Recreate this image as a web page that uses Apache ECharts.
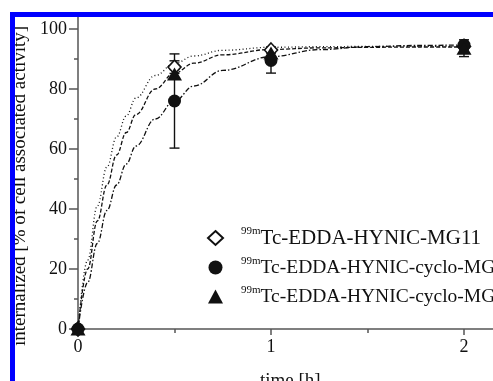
<!DOCTYPE html>
<html>
<head>
<meta charset="utf-8">
<script src="https://cdn.jsdelivr.net/npm/echarts@6/dist/echarts.min.js"></script>
<style>
html,body{margin:0;padding:0;background:#fff;}
#chart{width:493px;height:381px;}
</style>
</head>
<body>
<div id="chart"></div>
<script>
// ---- data ----
var seriesNames = ['Tc-EDDA-HYNIC-MG11', 'Tc-EDDA-HYNIC-cyclo-MG1', 'Tc-EDDA-HYNIC-cyclo-MG2'];
var timePoints = [0, 0.5, 1, 2];
var mg11Values = [0, 87.3, 93.0, 94.2];
var cycloMg1Values = [0, 76.0, 89.5, 94.6];
var cycloMg2Values = [0, 85.0, 92.0, 93.6];
var mg11Err = [0, 2.1, 1.0, 1.0];
var cycloMg1Err = [0, 15.7, 4.2, 1.0];
var cycloMg2Err = [0, 1.5, 1.5, 2.8];

var fitTimes = [0, 0.05, 0.1, 0.15, 0.2, 0.25, 0.3, 0.4, 0.5, 0.6, 0.75, 1.0, 1.25, 1.5, 1.75, 2.0];
var mg11Fit = [0, 23, 41, 54, 64, 71, 77, 84.5, 88.5, 91, 92.9, 93.9, 94.1, 94.2, 94.2, 94.2];
var cycloMg2Fit = [0, 20, 36, 48, 58, 65.5, 71.5, 80, 85.3, 88.6, 91.4, 93.2, 93.7, 93.9, 94, 94];
var cycloMg1Fit = [0, 15.5, 28.5, 39.5, 48, 55, 61, 70, 76, 81, 86.2, 90.8, 93.1, 94.1, 94.5, 94.7];

var xTickValues = [0, 1, 2];
var xMinorValues = [0.5, 1.5];
var yTickValues = [0, 20, 40, 60, 80, 100];
var yMinorValues = [10, 30, 50, 70, 90];

// ---- build ----
var FONT = 'Liberation Serif';
var INK = '#111';
var AXIS = '#555';

function pairs(xs, ys) { return xs.map(function (x, i) { return [x, ys[i]]; }); }
function errData(xs, ys, es) {
  var out = [];
  xs.forEach(function (x, i) { if (es[i] > 0) out.push([x, ys[i] - es[i], ys[i] + es[i]]); });
  return out;
}

function errSeries(data) {
  return {
    type: 'custom', xAxisIndex: 0, yAxisIndex: 0, z: 3, silent: true,
    data: data,
    renderItem: function (params, api) {
      var lo = api.coord([api.value(0), api.value(1)]);
      var hi = api.coord([api.value(0), api.value(2)]);
      var w = 5;
      var st = { stroke: INK, lineWidth: 1.4 };
      return { type: 'group', children: [
        { type: 'line', shape: { x1: lo[0], y1: lo[1], x2: hi[0], y2: hi[1] }, style: st },
        { type: 'line', shape: { x1: lo[0] - w, y1: lo[1], x2: lo[0] + w, y2: lo[1] }, style: st },
        { type: 'line', shape: { x1: hi[0] - w, y1: hi[1], x2: hi[0] + w, y2: hi[1] }, style: st }
      ]};
    }
  };
}

function fitSeries(ys, dash) {
  return {
    type: 'line', xAxisIndex: 0, yAxisIndex: 0, z: 2, silent: true,
    data: pairs(fitTimes, ys), smooth: 0.4, smoothMonotone: 'x',
    showSymbol: false, symbol: 'none',
    lineStyle: { color: INK, width: 1.3, type: dash }
  };
}

var chart = echarts.init(document.getElementById('chart'), null, { renderer: 'canvas' });
var option = {
  backgroundColor: '#fff',
  animation: false,
  grid: { left: 78, top: 17, width: 424.6, height: 312, containLabel: false, outerBoundsMode: 'none' },
  xAxis: [
    {
      type: 'value', min: 0, max: 2.2, position: 'bottom',
      name: 'time [h]', nameLocation: 'middle', nameGap: 43,
      nameTextStyle: { fontFamily: FONT, fontSize: 19, color: INK },
      axisLine: { show: true, lineStyle: { color: AXIS, width: 1.5 } },
      axisTick: { show: true, length: 6, lineStyle: { color: AXIS, width: 1.5 }, customValues: xTickValues },
      axisLabel: { show: true, margin: 9, fontFamily: FONT, fontSize: 18, color: INK, customValues: xTickValues },
      splitLine: { show: false }
    },
    {
      type: 'value', min: 0, max: 2.2, position: 'bottom',
      axisLine: { show: false },
      axisTick: { show: true, length: 4, lineStyle: { color: AXIS, width: 1.5 }, customValues: xMinorValues },
      axisLabel: { show: false },
      splitLine: { show: false }
    }
  ],
  yAxis: [
    {
      type: 'value', min: 0, max: 104, position: 'left',
      name: 'internalized [% of cell associated activity]', nameLocation: 'middle', nameGap: 48,
      nameTextStyle: { fontFamily: FONT, fontSize: 19, color: INK, padding: [0, 26, 0, 0] },
      axisLine: { show: true, lineStyle: { color: AXIS, width: 1.5 } },
      axisTick: { show: true, length: 9, lineStyle: { color: AXIS, width: 1.5 }, customValues: yTickValues },
      axisLabel: { show: true, margin: 11, fontFamily: FONT, fontSize: 18, color: INK, customValues: yTickValues },
      splitLine: { show: false }
    },
    {
      type: 'value', min: 0, max: 104, position: 'left',
      axisLine: { show: false },
      axisTick: { show: true, length: 4, lineStyle: { color: AXIS, width: 1.5 }, customValues: yMinorValues },
      axisLabel: { show: false },
      splitLine: { show: false }
    }
  ],
  legend: {
    orient: 'vertical', left: 202, top: 221, itemGap: 7,
    itemWidth: 15, itemHeight: 14,
    data: seriesNames,
    selectedMode: false,
    formatter: function (n) {
      return '{sup|99m}{' + (n === seriesNames[0] ? 'big' : 'main') + '|' + n + '}';
    },
    textStyle: {
      padding: [0, 0, 0, 13],
      rich: {
        sup: { fontFamily: FONT, fontSize: 11, color: INK, lineHeight: 8, verticalAlign: 'top' },
        big: { fontFamily: FONT, fontSize: 21, color: INK, lineHeight: 24 },
        main: { fontFamily: FONT, fontSize: 19.5, color: INK, lineHeight: 24 }
      }
    }
  },
  graphic: [
    { type: 'rect', shape: { x: 10, y: 12, width: 5, height: 369 }, style: { fill: '#0000ff' }, z: 100 },
    { type: 'rect', shape: { x: 10, y: 12, width: 483, height: 5 }, style: { fill: '#0000ff' }, z: 100 }
  ],
  series: [
    fitSeries(mg11Fit, [1, 2.5]),
    fitSeries(cycloMg2Fit, [4, 2]),
    fitSeries(cycloMg1Fit, [5, 2, 1.5, 2]),
    errSeries(errData(timePoints, mg11Values, mg11Err)),
    errSeries(errData(timePoints, cycloMg1Values, cycloMg1Err)),
    errSeries(errData(timePoints, cycloMg2Values, cycloMg2Err)),
    {
      name: seriesNames[0], type: 'scatter', xAxisIndex: 0, yAxisIndex: 0, z: 5,
      data: pairs(timePoints, mg11Values), symbol: 'diamond', symbolSize: [13, 14],
      itemStyle: { color: '#fff', borderColor: INK, borderWidth: 1.6, opacity: 1 }
    },
    {
      name: seriesNames[1], type: 'scatter', xAxisIndex: 0, yAxisIndex: 0, z: 5,
      data: pairs(timePoints, cycloMg1Values), symbol: 'circle', symbolSize: 13,
      itemStyle: { color: INK, opacity: 1 }
    },
    {
      name: seriesNames[2], type: 'scatter', xAxisIndex: 0, yAxisIndex: 0, z: 5,
      data: pairs(timePoints, cycloMg2Values), symbol: 'triangle', symbolSize: [15, 13],
      itemStyle: { color: INK, opacity: 1 }
    }
  ]
};
chart.setOption(option);
</script>
</body>
</html>
